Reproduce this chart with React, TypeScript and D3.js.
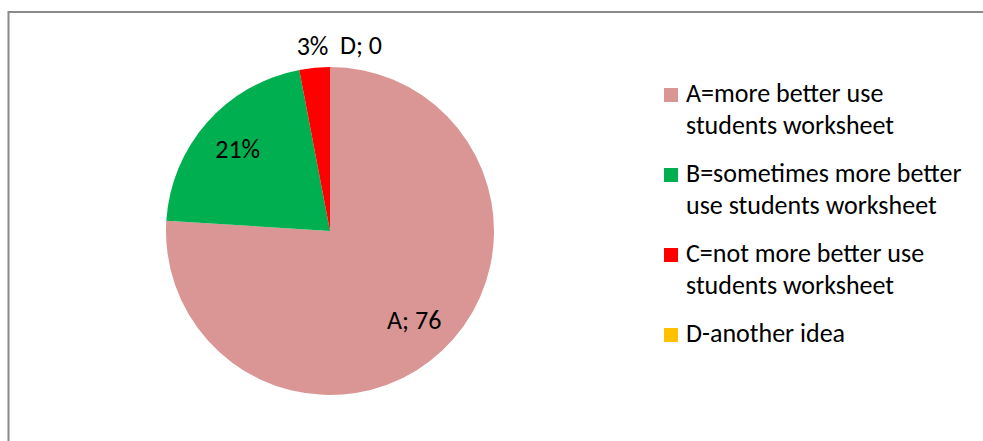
import * as d3 from 'd3';
import React from 'react';

// chart data
const categories = ['A', 'B', 'C', 'D'];
const values = [76, 21, 3, 0];
const colors = ['#D99694', '#00B050', '#FF0000', '#FFC000'];
// how each slice's data label reads (as in the original sheet)
const labelTexts = ['A; 76', '21%', '3%', 'D; 0'];
const labelInside = [true, true, false, false];
const legendLabels = [
  ['A=more better use', 'students worksheet'],
  ['B=sometimes more better', 'use students worksheet'],
  ['C=not more better use', 'students worksheet'],
  ['D-another idea'],
];

const W = 983, H = 441;
const FONT = 'Carlito, Lato, "Open Sans", sans-serif';

const App = () => {
  const cx = 330, cy = 231, r = 164;

  const pie = d3.pie<number>().sort(null).value(d => d);
  const arcs = pie(values);
  const arc = d3.arc<d3.PieArcDatum<number>>().innerRadius(0).outerRadius(r);
  const inLabel = d3.arc<d3.PieArcDatum<number>>().innerRadius(r * 1.5).outerRadius(0);
  const outLabel = d3.arc<d3.PieArcDatum<number>>().innerRadius(r * 1.13).outerRadius(r * 1.13);

  const legendX = 664, legendTop = 88, lineH = 32, entryGap = 16;
  let y = legendTop;
  const legendItems = legendLabels.map((lines, i) => {
    const item = { i, y, lines };
    y += lines.length * lineH + entryGap;
    return item;
  });

  return (
    <svg width={W} height={H} style={{ position: 'absolute', left: 0, top: 0, background: '#fff' }}
      fontFamily={FONT}>
      <rect x={8.5} y={12} width={W + 20} height={H + 20} fill="#fff" stroke="#8a8a8a" strokeWidth={2} />
      <g transform={`translate(${cx},${cy})`}>
        {arcs.map((a, i) => (
          <path key={categories[i]} d={arc(a) || ''} fill={colors[i]} />
        ))}
        {arcs.map((a, i) => {
          const [lx, ly] = labelInside[i] ? inLabel.centroid(a) : outLabel.centroid(a);
          const anchor = i === 3 ? 'start' : 'middle';
          return (
            <text key={'l' + i} x={lx} y={ly} dx={i === 3 ? 10 : 0} dy="0.33em"
              textAnchor={anchor} fontSize={26} fill="#000">
              {labelTexts[i]}
            </text>
          );
        })}
      </g>
      <g>
        {legendItems.map(it => (
          <g key={'lg' + it.i}>
            <rect x={legendX} y={it.y} width={14} height={14} fill={colors[it.i]} />
            {it.lines.map((ln, j) => (
              <text key={j} x={legendX + 22} y={it.y + 14 + j * lineH} fontSize={26} fill="#000">{ln}</text>
            ))}
          </g>
        ))}
      </g>
    </svg>
  );
};

export default App;
